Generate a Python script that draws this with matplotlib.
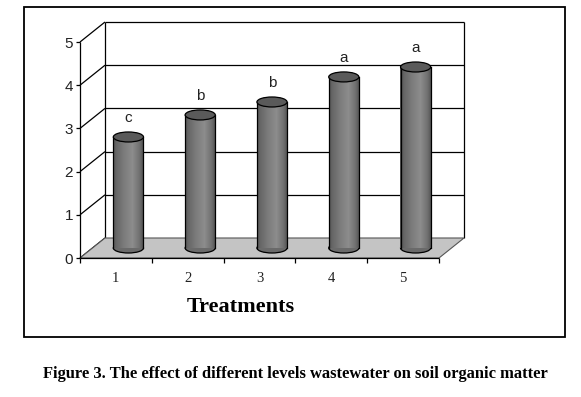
import numpy as np
import matplotlib
matplotlib.use("Agg")
import matplotlib.pyplot as plt
from matplotlib.patches import Polygon, Ellipse, Rectangle

# ---- data ----
categories = [1, 2, 3, 4, 5]
tick_labels = ["1", "2", "3", "4", "5"]
organic_matter = [2.57, 3.08, 3.38, 3.96, 4.19]
letters = ["c", "b", "b", "a", "a"]
y_ticks = [0, 1, 2, 3, 4, 5]

W, H = 581, 397
fig = plt.figure(figsize=(W / 100, H / 100), dpi=100)
fig.patch.set_facecolor("white")

# front plane of the chart: x 0.5..5.5 -> px 80..439, y 0..5 -> px 258..42
L, R, T, B = 80, 439, 42, 258
ax = fig.add_axes([L / W, 1 - B / H, (R - L) / W, (B - T) / H])
ax.set_xlim(0.5, 5.5)
ax.set_ylim(0, 5)
ax.patch.set_visible(False)
for s in ax.spines.values():
    s.set_visible(False)

# oblique depth offset in data units
DX = 25 / ((R - L) / 5)
DY = 20 / ((B - T) / 5)
x0, x1 = 0.5, 5.5
ymax = 5

line_kw = dict(color="black", lw=0.9, clip_on=False, solid_capstyle="butt")

# back wall
ax.add_patch(Polygon([(x0 + DX, DY), (x1 + DX, DY), (x1 + DX, ymax + DY), (x0 + DX, ymax + DY)],
                     closed=True, facecolor="white", edgecolor="none", clip_on=False, zorder=0))
for yv in y_ticks[1:]:
    ax.plot([x0 + DX, x1 + DX], [yv + DY, yv + DY], zorder=1, **line_kw)
ax.plot([x0 + DX, x0 + DX], [DY, ymax + DY], zorder=1, **line_kw)
ax.plot([x1 + DX, x1 + DX], [DY, ymax + DY], zorder=1, **line_kw)

# left side wall diagonals
for yv in y_ticks:
    ax.plot([x0, x0 + DX], [yv, yv + DY], zorder=1, **line_kw)

# floor
ax.add_patch(Polygon([(x0, 0), (x1, 0), (x1 + DX, DY), (x0 + DX, DY)], closed=True,
                     facecolor="#c4c4c4", edgecolor="#555555", lw=0.8, clip_on=False, zorder=2))

# bars as cylinders
bw = 0.42
eh = 10 / ((B - T) / 5)
xs = np.array(categories, dtype=float) + DX / 2
base = DY / 2
prof_pos = [0.0, 0.12, 0.35, 0.65, 0.88, 1.0]
prof_val = [0x55, 0x66, 0x7a, 0x8c, 0x70, 0x55]
N = 30
for xc, v, lab in zip(xs, organic_matter, letters):
    # bottom ellipse
    ax.add_patch(Ellipse((xc, base), bw, eh, facecolor="#6a6a6a", edgecolor="black",
                         lw=0.9, clip_on=False, zorder=3))
    edges = np.linspace(xc - bw / 2, xc + bw / 2, N + 1)
    centers = (edges[:-1] + edges[1:]) / 2
    fr = (centers - edges[0]) / bw
    g = np.interp(fr, prof_pos, prof_val) / 255
    ax.bar(centers, [v] * N, width=bw / N * 1.05, bottom=base,
           color=[(c, c, c) for c in g], edgecolor="none", zorder=4, clip_on=False)
    ax.plot([xc - bw / 2] * 2, [base, base + v], color="black", lw=0.9, zorder=5, clip_on=False)
    ax.plot([xc + bw / 2] * 2, [base, base + v], color="black", lw=0.9, zorder=5, clip_on=False)
    ax.add_patch(Ellipse((xc, base + v), bw, eh, facecolor="#5a5a5a", edgecolor="black",
                         lw=0.9, clip_on=False, zorder=6))
    ax.text(xc, base + v + eh / 2 + 0.17, lab, ha="center", va="bottom",
            fontsize=11, family="Liberation Sans", color="#222222", zorder=7)

# front axes
ax.plot([x0, x0], [0, ymax], zorder=8, **line_kw)
ax.plot([x0, x1], [0, 0], zorder=8, **line_kw)

ax.set_yticks(y_ticks)
ax.set_yticklabels([str(t) for t in y_ticks], family="Liberation Sans", fontsize=11, color="#222222")
ax.tick_params(axis="y", length=3, width=0.9, pad=2, direction="out")

ax.set_xticks(categories)
ax.set_xticklabels(tick_labels, family="Liberation Serif", fontsize=10.5, color="#222222")
ax.set_xticks(np.arange(0.5, 6.0, 1.0), minor=True)
ax.tick_params(axis="x", which="major", length=0, pad=10)
ax.tick_params(axis="x", which="minor", length=3.5, width=0.9, direction="out")

ax.set_xlabel("Treatments", family="Liberation Serif", fontweight="bold", fontsize=16)
ax.xaxis.set_label_coords((241 - L) / (R - L), -(307 - B) / (B - T), transform=ax.transAxes)
ax.xaxis.label.set_va("center")

# outer chart frame
fig.add_artist(Rectangle((24 / W, 1 - 337 / H), (565 - 24) / W, (337 - 7) / H,
                         transform=fig.transFigure, fill=False, edgecolor="black", lw=1.3))

fig.text(295 / W, 1 - 374 / H,
         "Figure 3. The effect of different levels wastewater on soil organic matter",
         ha="center", va="center", family="Liberation Serif", fontweight="bold", fontsize=11.9)

fig.savefig("out.png", dpi=100)
